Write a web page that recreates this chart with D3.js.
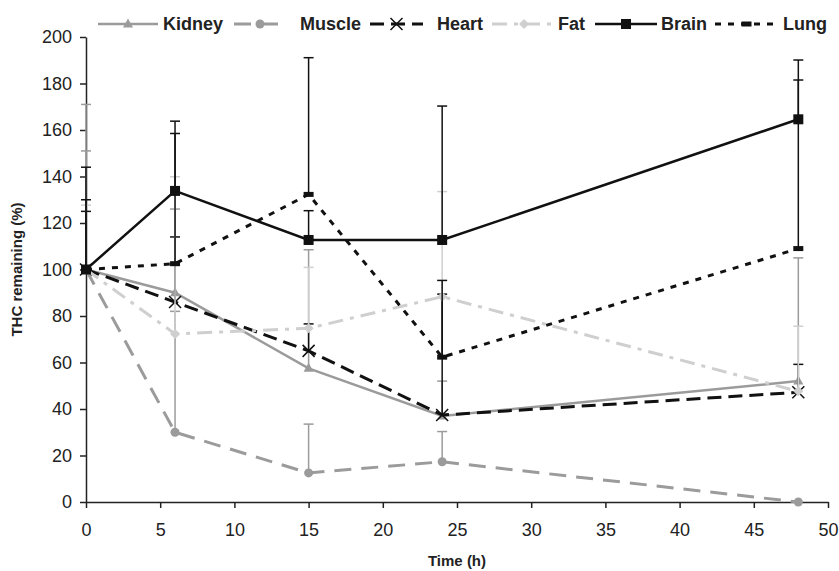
<!DOCTYPE html>
<html><head><meta charset="utf-8">
<script src="https://cdn.jsdelivr.net/npm/d3@7"></script>
<style>
html,body{margin:0;padding:0;background:#fff;}
svg{display:block;font-family:"Liberation Sans",Arial,sans-serif;}
</style></head>
<body><svg id="c" width="839" height="571"></svg>
<script>
// ---- data ----
const times = [0, 6, 15, 24, 48];
const seriesNames = ["Kidney", "Muscle", "Heart", "Fat", "Brain", "Lung"];
const kidney    = [100, 90, 57.5, 37, 52];
const kidneyErr = [71, 36, 51, 15, 53];
const muscle    = [100, 30, 12.5, 17.3, 0];
const muscleErr = [51, 52, 21, 13, 0];
const heart     = [100, 86, 65, 37.4, 47.2];
const heartErr  = [25, 28, 11.6, 52, 12];
const fat       = [100, 72.3, 74.7, 88.3, 47.6];
const fatErr    = [27.7, 67.6, 26.2, 45.2, 28];
const brain     = [100, 133.8, 112.7, 112.7, 164.6];
const brainErr  = [44, 30, 12.6, 57.6, 25.5];
const lung      = [100, 102.5, 132.3, 62.3, 109];
const lungErr   = [30, 56, 58.8, 33, 72.5];
const xTicks = [0, 5, 10, 15, 20, 25, 30, 35, 40, 45, 50];
const yTicks = [0, 20, 40, 60, 80, 100, 120, 140, 160, 180, 200];
const xTitle = "Time (h)";
const yTitle = "THC remaining (%)";

// ---- styles ----
const styles = {
  Kidney: {color:"#9b9b9b", width:2.5, dash:null, marker:"triangle"},
  Muscle: {color:"#9b9b9b", width:3, dash:"17,10", marker:"circle"},
  Heart:  {color:"#111111", width:3, dash:"14,7", marker:"x"},
  Fat:    {color:"#cfcfcf", width:3, dash:"15,7,4,7", marker:"diamond"},
  Brain:  {color:"#111111", width:2.5, dash:null, marker:"square"},
  Lung:   {color:"#111111", width:3, dash:"6,7", marker:"dash"}
};
const values = {Kidney:kidney, Muscle:muscle, Heart:heart, Fat:fat, Brain:brain, Lung:lung};
const errs = {Kidney:kidneyErr, Muscle:muscleErr, Heart:heartErr, Fat:fatErr, Brain:brainErr, Lung:lungErr};

const svg = d3.select("#c");
const x = d3.scaleLinear().domain([0, 50]).range([86, 828]);
const y = d3.scaleLinear().domain([0, 200]).range([502, 37]);

// axes
const gx = svg.append("g").attr("transform", `translate(0,${y(0)})`)
  .call(d3.axisBottom(x).tickValues(xTicks).tickSize(6).tickPadding(15).tickSizeOuter(0));
const gy = svg.append("g").attr("transform", `translate(${x(0)},0)`)
  .call(d3.axisLeft(y).tickValues(yTicks).tickSize(6).tickPadding(8).tickSizeOuter(0));
[gx, gy].forEach(g => {
  g.select(".domain").attr("stroke", "#222").attr("stroke-width", 1.5);
  g.selectAll(".tick line").attr("stroke", "#222").attr("stroke-width", 1.5);
  g.selectAll(".tick text").attr("fill", "#222").style("font-size", "18px")
   .style("font-family", "'Liberation Sans', Arial, sans-serif");
});

svg.append("text").attr("x", (x(0) + x(50)) / 2).attr("y", 566)
  .attr("text-anchor", "middle").style("font-size", "15px").style("font-weight", "bold")
  .attr("fill", "#222").text(xTitle);
svg.append("text").attr("transform", `translate(22,${(y(0) + y(200)) / 2}) rotate(-90)`)
  .attr("text-anchor", "middle").style("font-size", "15px").style("font-weight", "bold")
  .attr("fill", "#222").text(yTitle);

function drawMarker(g, type, cx, cy, color) {
  if (type === "triangle") {
    g.append("path").attr("d", `M${cx},${cy - 5.5}L${cx + 5},${cy + 3.5}L${cx - 5},${cy + 3.5}Z`).attr("fill", color);
  } else if (type === "circle") {
    g.append("circle").attr("cx", cx).attr("cy", cy).attr("r", 4.5).attr("fill", color);
  } else if (type === "x") {
    g.append("path").attr("d", `M${cx - 6},${cy - 6}L${cx + 6},${cy + 6}M${cx - 6},${cy + 6}L${cx + 6},${cy - 6}`)
      .attr("stroke", color).attr("stroke-width", 1.5).attr("fill", "none");
  } else if (type === "diamond") {
    g.append("path").attr("d", `M${cx},${cy - 5}L${cx + 5},${cy}L${cx},${cy + 5}L${cx - 5},${cy}Z`).attr("fill", color);
  } else if (type === "square") {
    g.append("rect").attr("x", cx - 5).attr("y", cy - 5).attr("width", 10).attr("height", 10).attr("fill", color);
  } else if (type === "dash") {
    g.append("rect").attr("x", cx - 5).attr("y", cy - 2.5).attr("width", 10).attr("height", 5).attr("fill", color);
  }
}

const line = d3.line().x(d => x(d[0])).y(d => y(d[1]));

seriesNames.forEach(name => {
  const st = styles[name];
  const vals = values[name], er = errs[name];
  const g = svg.append("g");
  // error bars (plus only)
  times.forEach((t, i) => {
    if (er[i] <= 0) return;
    const px = x(t), y0 = y(vals[i]), y1 = y(vals[i] + er[i]);
    g.append("line").attr("x1", px).attr("x2", px).attr("y1", y0).attr("y2", y1)
      .attr("stroke", st.color).attr("stroke-width", 1.5);
    g.append("line").attr("x1", px - 5).attr("x2", px + 5).attr("y1", y1).attr("y2", y1)
      .attr("stroke", st.color).attr("stroke-width", 1.5);
  });
  g.append("path").datum(times.map((t, i) => [t, vals[i]])).attr("d", line)
    .attr("fill", "none").attr("stroke", st.color).attr("stroke-width", st.width)
    .attr("stroke-dasharray", st.dash);
  times.forEach((t, i) => drawMarker(g, st.marker, x(t), y(vals[i]), st.color));
});

// legend
const legendItems = [
  {name:"Kidney", x1:98, x2:158, tx:163},
  {name:"Muscle", x1:234, x2:286, tx:300},
  {name:"Heart", x1:370, x2:423, tx:437},
  {name:"Fat", x1:492, x2:556, tx:558},
  {name:"Brain", x1:595, x2:657, tx:661},
  {name:"Lung", x1:715, x2:778, tx:783}
];
const ly = 24;
legendItems.forEach(it => {
  const st = styles[it.name];
  const g = svg.append("g");
  g.append("line").attr("x1", it.x1).attr("x2", it.x2).attr("y1", ly).attr("y2", ly)
    .attr("stroke", st.color).attr("stroke-width", st.width).attr("stroke-dasharray", st.dash);
  drawMarker(g, st.marker, (it.x1 + it.x2) / 2, ly, st.color);
  g.append("text").attr("x", it.tx).attr("y", ly + 6).style("font-size", "18px")
    .style("font-weight", "bold").attr("fill", "#222").text(it.name);
});
</script></body></html>
